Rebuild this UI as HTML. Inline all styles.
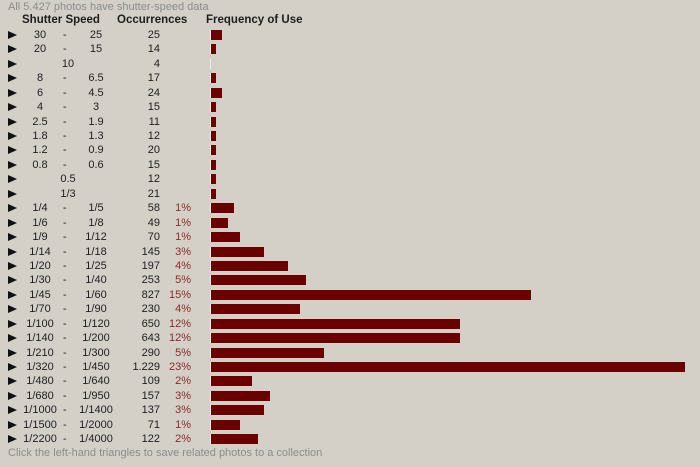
<!DOCTYPE html>
<html><head><meta charset="utf-8"><style>
body{margin:0;width:700px;height:467px;background:#d4d0c8;font-family:"Liberation Sans",Tahoma,sans-serif;font-size:11px;color:#1e1e1e;position:relative;overflow:hidden}
.t{position:absolute;white-space:nowrap}
.r{position:absolute;left:0;width:700px;height:14px;line-height:14px}
.r span{position:absolute;top:0;white-space:nowrap}
.tri{left:8px;width:0;height:0;border-left:9px solid #111;border-top:4px solid transparent;border-bottom:4px solid transparent;top:3px!important}
.a{left:10px;width:60px;text-align:center}
.d{left:63px}
.b{left:66px;width:60px;text-align:center}
.c{left:38px;width:60px;text-align:center}
.o{left:100px;width:60px;text-align:right}
.p{left:150px;width:41px;text-align:right;color:#8b2a2a}
.bar{left:210px;top:2px!important;height:10px;background:#6b0000;border-left:1px solid #eee}
</style></head><body>
<div class="t" style="left:8px;top:1px;color:#8c8c8c">All 5.427 photos have shutter-speed data</div>
<div class="t" style="left:22px;top:14px;font-weight:bold;font-size:11.5px">Shutter Speed</div>
<div class="t" style="left:117px;top:14px;font-weight:bold;font-size:11.5px">Occurrences</div>
<div class="t" style="left:206px;top:14px;font-weight:bold;font-size:11.5px">Frequency of Use</div>

<div class="r" style="top:28px"><span class="tri"></span><span class="a">30</span><span class="d">-</span><span class="b">25</span><span class="o">25</span><span class="bar" style="width:11px"></span></div>
<div class="r" style="top:42px"><span class="tri"></span><span class="a">20</span><span class="d">-</span><span class="b">15</span><span class="o">14</span><span class="bar" style="width:5px"></span></div>
<div class="r" style="top:57px"><span class="tri"></span><span class="c">10</span><span class="o">4</span><span class="bar" style="width:0px"></span></div>
<div class="r" style="top:71px"><span class="tri"></span><span class="a">8</span><span class="d">-</span><span class="b">6.5</span><span class="o">17</span><span class="bar" style="width:5px"></span></div>
<div class="r" style="top:86px"><span class="tri"></span><span class="a">6</span><span class="d">-</span><span class="b">4.5</span><span class="o">24</span><span class="bar" style="width:11px"></span></div>
<div class="r" style="top:100px"><span class="tri"></span><span class="a">4</span><span class="d">-</span><span class="b">3</span><span class="o">15</span><span class="bar" style="width:5px"></span></div>
<div class="r" style="top:115px"><span class="tri"></span><span class="a">2.5</span><span class="d">-</span><span class="b">1.9</span><span class="o">11</span><span class="bar" style="width:5px"></span></div>
<div class="r" style="top:129px"><span class="tri"></span><span class="a">1.8</span><span class="d">-</span><span class="b">1.3</span><span class="o">12</span><span class="bar" style="width:5px"></span></div>
<div class="r" style="top:143px"><span class="tri"></span><span class="a">1.2</span><span class="d">-</span><span class="b">0.9</span><span class="o">20</span><span class="bar" style="width:5px"></span></div>
<div class="r" style="top:158px"><span class="tri"></span><span class="a">0.8</span><span class="d">-</span><span class="b">0.6</span><span class="o">15</span><span class="bar" style="width:5px"></span></div>
<div class="r" style="top:172px"><span class="tri"></span><span class="c">0.5</span><span class="o">12</span><span class="bar" style="width:5px"></span></div>
<div class="r" style="top:187px"><span class="tri"></span><span class="c">1/3</span><span class="o">21</span><span class="bar" style="width:5px"></span></div>
<div class="r" style="top:201px"><span class="tri"></span><span class="a">1/4</span><span class="d">-</span><span class="b">1/5</span><span class="o">58</span><span class="p">1%</span><span class="bar" style="width:23px"></span></div>
<div class="r" style="top:216px"><span class="tri"></span><span class="a">1/6</span><span class="d">-</span><span class="b">1/8</span><span class="o">49</span><span class="p">1%</span><span class="bar" style="width:17px"></span></div>
<div class="r" style="top:230px"><span class="tri"></span><span class="a">1/9</span><span class="d">-</span><span class="b">1/12</span><span class="o">70</span><span class="p">1%</span><span class="bar" style="width:29px"></span></div>
<div class="r" style="top:245px"><span class="tri"></span><span class="a">1/14</span><span class="d">-</span><span class="b">1/18</span><span class="o">145</span><span class="p">3%</span><span class="bar" style="width:53px"></span></div>
<div class="r" style="top:259px"><span class="tri"></span><span class="a">1/20</span><span class="d">-</span><span class="b">1/25</span><span class="o">197</span><span class="p">4%</span><span class="bar" style="width:77px"></span></div>
<div class="r" style="top:273px"><span class="tri"></span><span class="a">1/30</span><span class="d">-</span><span class="b">1/40</span><span class="o">253</span><span class="p">5%</span><span class="bar" style="width:95px"></span></div>
<div class="r" style="top:288px"><span class="tri"></span><span class="a">1/45</span><span class="d">-</span><span class="b">1/60</span><span class="o">827</span><span class="p">15%</span><span class="bar" style="width:320px"></span></div>
<div class="r" style="top:302px"><span class="tri"></span><span class="a">1/70</span><span class="d">-</span><span class="b">1/90</span><span class="o">230</span><span class="p">4%</span><span class="bar" style="width:89px"></span></div>
<div class="r" style="top:317px"><span class="tri"></span><span class="a">1/100</span><span class="d">-</span><span class="b">1/120</span><span class="o">650</span><span class="p">12%</span><span class="bar" style="width:249px"></span></div>
<div class="r" style="top:331px"><span class="tri"></span><span class="a">1/140</span><span class="d">-</span><span class="b">1/200</span><span class="o">643</span><span class="p">12%</span><span class="bar" style="width:249px"></span></div>
<div class="r" style="top:346px"><span class="tri"></span><span class="a">1/210</span><span class="d">-</span><span class="b">1/300</span><span class="o">290</span><span class="p">5%</span><span class="bar" style="width:113px"></span></div>
<div class="r" style="top:360px"><span class="tri"></span><span class="a">1/320</span><span class="d">-</span><span class="b">1/450</span><span class="o">1.229</span><span class="p">23%</span><span class="bar" style="width:474px"></span></div>
<div class="r" style="top:374px"><span class="tri"></span><span class="a">1/480</span><span class="d">-</span><span class="b">1/640</span><span class="o">109</span><span class="p">2%</span><span class="bar" style="width:41px"></span></div>
<div class="r" style="top:389px"><span class="tri"></span><span class="a">1/680</span><span class="d">-</span><span class="b">1/950</span><span class="o">157</span><span class="p">3%</span><span class="bar" style="width:59px"></span></div>
<div class="r" style="top:403px"><span class="tri"></span><span class="a">1/1000</span><span class="d">-</span><span class="b">1/1400</span><span class="o">137</span><span class="p">3%</span><span class="bar" style="width:53px"></span></div>
<div class="r" style="top:418px"><span class="tri"></span><span class="a">1/1500</span><span class="d">-</span><span class="b">1/2000</span><span class="o">71</span><span class="p">1%</span><span class="bar" style="width:29px"></span></div>
<div class="r" style="top:432px"><span class="tri"></span><span class="a">1/2200</span><span class="d">-</span><span class="b">1/4000</span><span class="o">122</span><span class="p">2%</span><span class="bar" style="width:47px"></span></div>

<div class="t" style="left:8px;top:447px;color:#8c8c8c">Click the left-hand triangles to save related photos to a collection</div>
</body></html>
